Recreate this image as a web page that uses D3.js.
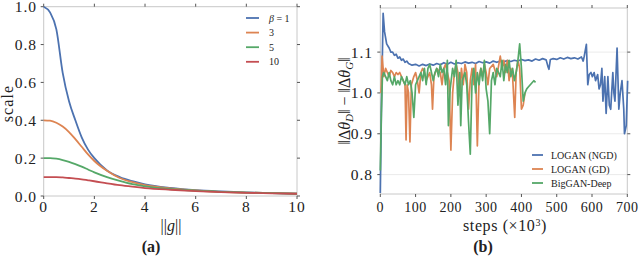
<!DOCTYPE html>
<meta charset="utf-8">
<script src="https://d3js.org/d3.v7.min.js"></script>
<style>
  body { margin: 0; background: #fff; }
  text { font-family: "Liberation Serif", "Noto Serif", serif; fill: #222; }
</style>
<div id="chart"></div>
<script>
// ---- panel (a) data ----
var gValues = [0, 0.25, 0.5, 0.75, 1, 1.25, 1.5, 1.75, 2, 2.5, 3, 3.5, 4, 5, 6, 7, 8, 9, 10];
var beta1  = [1.0, 0.97, 0.88, 0.65, 0.50, 0.40, 0.31, 0.245, 0.20, 0.135, 0.10, 0.078, 0.062, 0.043, 0.031, 0.024, 0.019, 0.015, 0.012];
var beta3  = [0.40, 0.398, 0.387, 0.367, 0.338, 0.30, 0.26, 0.22, 0.185, 0.133, 0.095, 0.073, 0.057, 0.04, 0.029, 0.022, 0.018, 0.015, 0.012];
var beta5  = [0.20, 0.20, 0.197, 0.19, 0.18, 0.168, 0.155, 0.14, 0.125, 0.10, 0.08, 0.063, 0.051, 0.037, 0.028, 0.022, 0.018, 0.015, 0.012];
var beta10 = [0.10, 0.10, 0.10, 0.098, 0.095, 0.092, 0.088, 0.083, 0.078, 0.067, 0.057, 0.049, 0.042, 0.033, 0.026, 0.021, 0.017, 0.014, 0.012];
var betaLabels = ["1", "3", "5", "10"];

// ---- panel (b) data (steps in thousands) ----
var ngdSteps = [0, 3, 8, 12, 18, 25, 30, 35, 40, 45, 50, 55, 60, 65, 70, 75, 80, 90, 100, 110, 120, 130, 140, 150, 160, 170, 180, 190, 200, 210, 220, 230, 240, 250, 260, 270, 280, 290, 300, 310, 320, 330, 340, 350, 360, 370, 380, 390, 400, 410, 420, 430, 440, 450, 460, 470, 475, 478, 482, 490, 500, 510, 520, 530, 540, 550, 560, 570, 575, 578, 584, 588, 592, 597, 601, 606, 610, 616, 620, 624, 628, 631, 636, 640, 645, 649, 653, 659, 662, 665, 671, 676, 680, 685, 690, 692, 697, 701];
var ngdValues = [0.755, 0.95, 1.195, 1.15, 1.12, 1.11, 1.10, 1.10, 1.092, 1.095, 1.085, 1.088, 1.08, 1.083, 1.075, 1.078, 1.072, 1.068, 1.07, 1.066, 1.07, 1.067, 1.071, 1.068, 1.072, 1.069, 1.074, 1.07, 1.075, 1.071, 1.074, 1.072, 1.076, 1.073, 1.075, 1.072, 1.077, 1.074, 1.076, 1.073, 1.078, 1.075, 1.078, 1.076, 1.079, 1.077, 1.08, 1.078, 1.082, 1.079, 1.081, 1.078, 1.083, 1.08, 1.084, 1.081, 1.065, 1.058, 1.082, 1.084, 1.082, 1.086, 1.083, 1.087, 1.084, 1.086, 1.083, 1.088, 1.078, 1.09, 1.119, 1.02, 1.045, 1.05, 1.04, 1.05, 1.03, 1.045, 1.01, 1.02, 1.06, 0.98, 1.04, 0.95, 1.04, 0.97, 0.96, 1.05, 1.0, 0.98, 1.11, 0.96, 1.0, 1.03, 0.96, 0.90, 0.92, 1.03];

var gdSteps = [2, 5, 10, 15, 20, 25, 30, 35, 40, 45, 50, 55, 60, 65, 70, 73, 76, 80, 84, 88, 95, 100, 105, 110, 115, 120, 125, 130, 140, 145, 148, 152, 160, 170, 175, 180, 185, 190, 195, 200, 205, 210, 215, 220, 225, 230, 235, 240, 245, 250, 255, 260, 265, 270, 275, 280, 285, 290, 295, 300, 305, 310, 320, 330, 340, 345, 350, 355, 360, 365, 370, 375, 381, 385, 390, 395, 400, 405, 410];
var gdValues = [1.0, 1.09, 1.04, 1.06, 1.05, 1.04, 1.055, 1.05, 1.04, 1.05, 1.045, 1.05, 1.04, 1.03, 1.02, 0.885, 1.02, 1.0, 0.88, 1.02, 1.04, 1.05, 1.03, 1.0, 1.05, 1.06, 1.05, 1.03, 1.05, 1.02, 0.96, 1.04, 1.06, 1.05, 1.02, 1.06, 1.07, 1.05, 1.03, 0.86, 1.0, 1.05, 1.07, 1.05, 1.0, 1.06, 1.02, 1.07, 1.05, 0.96, 1.03, 1.06, 1.02, 1.07, 0.87, 1.04, 1.06, 1.04, 1.07, 1.05, 1.02, 1.06, 1.07, 1.04, 1.09, 1.06, 1.08, 1.05, 1.08, 1.03, 1.06, 1.04, 0.94, 1.05, 1.08, 1.06, 0.96, 0.97, 1.0];

var deepSteps = [0, 3, 6, 10, 15, 20, 25, 30, 35, 40, 45, 50, 55, 60, 65, 70, 75, 80, 85, 90, 95, 100, 105, 110, 115, 120, 125, 130, 135, 140, 145, 150, 155, 160, 165, 170, 175, 180, 185, 190, 193, 198, 205, 210, 215, 220, 225, 228, 232, 240, 245, 250, 255, 260, 265, 270, 275, 280, 285, 290, 295, 300, 305, 310, 315, 320, 325, 330, 340, 345, 350, 355, 360, 365, 370, 375, 380, 385, 390, 395, 400, 405, 410, 415, 420, 425, 430, 435, 440];
var deepValues = [0.81, 0.95, 1.04, 1.05, 1.04, 1.03, 1.05, 1.03, 1.02, 1.04, 1.02, 1.03, 1.02, 1.04, 1.03, 1.02, 1.04, 1.02, 1.03, 1.0, 0.94, 1.02, 1.03, 1.04, 1.05, 1.03, 1.06, 1.02, 1.06, 1.07, 1.05, 1.03, 1.05, 1.06, 1.04, 1.07, 1.05, 1.06, 1.02, 1.08, 0.92, 1.01, 1.06, 1.04, 1.08, 0.97, 1.05, 0.92, 1.03, 1.05, 1.02, 0.93, 0.85, 1.03, 1.06, 1.0, 1.05, 1.02, 1.06, 1.03, 1.08, 1.01, 0.98, 0.90, 1.03, 1.05, 1.02, 1.06, 1.04, 1.08, 1.03, 1.07, 1.05, 1.08, 1.04, 1.06, 1.03, 1.05, 1.08, 1.12, 1.06, 0.98, 1.0, 1.01, 1.015, 1.02, 1.025, 1.03, 1.026];

var seriesNames = ["LOGAN (NGD)", "LOGAN (GD)", "BigGAN-Deep"];
var colors = ["#4C72B0", "#DD8452", "#55A868", "#C44E52"];

var svg = d3.select("#chart").append("svg")
  .attr("width", 640).attr("height", 261);

function frame(g, x, y, xTicks, yTicks, grid) {
  var x0 = x.range()[0], x1 = x.range()[1], y0 = y.range()[0], y1 = y.range()[1];
  if (grid) {
    g.append("g").selectAll("line").data(yTicks).enter().append("line")
      .attr("x1", x0).attr("x2", x1)
      .attr("y1", function(d){ return y(d); }).attr("y2", function(d){ return y(d); })
      .attr("stroke", "#ebebeb").attr("stroke-width", 1);
  }
  g.append("rect").attr("x", x0).attr("y", y1).attr("width", x1 - x0).attr("height", y0 - y1)
    .attr("fill", "none").attr("stroke", "#c8c8c8").attr("stroke-width", 1);
  // outward ticks on all four sides
  g.append("g").selectAll("line").data(xTicks).enter().append("line")
    .attr("x1", function(d){ return x(d); }).attr("x2", function(d){ return x(d); })
    .attr("y1", y0).attr("y2", y0 + 3).attr("stroke", "#555");
  g.append("g").selectAll("line").data(xTicks).enter().append("line")
    .attr("x1", function(d){ return x(d); }).attr("x2", function(d){ return x(d); })
    .attr("y1", y1).attr("y2", y1 - 3).attr("stroke", "#555");
  g.append("g").selectAll("line").data(yTicks).enter().append("line")
    .attr("x1", x0 - 3).attr("x2", x0)
    .attr("y1", function(d){ return y(d); }).attr("y2", function(d){ return y(d); }).attr("stroke", "#555");
  g.append("g").selectAll("line").data(yTicks).enter().append("line")
    .attr("x1", x1).attr("x2", x1 + 3)
    .attr("y1", function(d){ return y(d); }).attr("y2", function(d){ return y(d); }).attr("stroke", "#555");
}

// ===== panel (a) =====
var xa = d3.scaleLinear().domain([0, 10]).range([43.7, 297]);
var ya = d3.scaleLinear().domain([0, 1]).range([196, 6.7]);
var ga = svg.append("g");
var aTicksX = [0, 2, 4, 6, 8, 10], aTicksY = [0, 0.2, 0.4, 0.6, 0.8, 1.0];

frame(ga, xa, ya, aTicksX, aTicksY, false);

var lineA = d3.line().x(function(d){ return xa(d[0]); }).y(function(d){ return ya(d[1]); })
  .curve(d3.curveMonotoneX);
[beta1, beta3, beta5, beta10].forEach(function(vals, i) {
  ga.append("path").datum(gValues.map(function(g, j){ return [g, vals[j]]; }))
    .attr("d", lineA).attr("fill", "none").attr("stroke", colors[i]).attr("stroke-width", 1.8);
});

ga.selectAll(".xt").data(aTicksX).enter().append("text")
  .attr("x", function(d){ return xa(d); }).attr("y", 212)
  .attr("text-anchor", "middle").style("font-size", "15.5px").style("letter-spacing", "1px")
  .text(function(d){ return d; });
ga.selectAll(".yt").data(aTicksY).enter().append("text")
  .attr("x", 37).attr("y", function(d){ return ya(d) + 5.5; })
  .attr("text-anchor", "end").style("font-size", "15.5px").style("letter-spacing", "1px")
  .text(function(d){ return d3.format(".1f")(d); });

ga.append("text").attr("transform", "translate(12.5,103.5) rotate(-90)")
  .attr("text-anchor", "middle").style("font-size", "16px").style("letter-spacing", "1.1px").text("scale");
var gl = ga.append("text").attr("x", 171).attr("y", 231).attr("text-anchor", "middle")
  .style("font-size", "16px");
gl.append("tspan").text("||");
gl.append("tspan").style("font-style", "italic").text("g");
gl.append("tspan").text("||");
ga.append("text").attr("x", 151).attr("y", 252).attr("text-anchor", "middle")
  .style("font-size", "16px").style("font-weight", "bold").text("(a)");

// legend (a)
var legA = ga.append("g");
betaLabels.forEach(function(lab, i) {
  var yy = 18 + i * 14.6;
  legA.append("line").attr("x1", 246).attr("x2", 259).attr("y1", yy).attr("y2", yy)
    .attr("stroke", colors[i]).attr("stroke-width", 1.8);
  var t = legA.append("text").attr("x", 269).attr("y", yy + 3.5).style("font-size", "10px");
  if (i === 0) {
    t.append("tspan").style("font-style", "italic").text("β");
    t.append("tspan").text(" = " + lab);
  } else {
    t.text(lab);
  }
});

// ===== panel (b) =====
var xb = d3.scaleLinear().domain([0, 700]).range([380.3, 627.3]);
var yb = d3.scaleLinear().domain([0.7525, 1.208]).range([194, 8]);
var gb = svg.append("g");
var bTicksX = [0, 100, 200, 300, 400, 500, 600, 700], bTicksY = [0.8, 0.9, 1.0, 1.1];

frame(gb, xb, yb, bTicksX, bTicksY, true);

var lineB = d3.line().x(function(d){ return xb(d[0]); }).y(function(d){ return yb(d[1]); });
[[ngdSteps, ngdValues], [gdSteps, gdValues], [deepSteps, deepValues]].forEach(function(s, i) {
  var pts = s[0].map(function(x, j){ return [x, s[1][j]]; });
  gb.append("path").datum(pts).attr("d", lineB).attr("fill", "none")
    .attr("stroke", colors[i]).attr("stroke-width", 1.7).attr("stroke-linejoin", "round");
});

gb.selectAll(".xt").data(bTicksX).enter().append("text")
  .attr("x", function(d){ return xb(d); }).attr("y", 212)
  .attr("text-anchor", "middle").style("font-size", "14px").style("letter-spacing", "0.5px")
  .text(function(d){ return d; });
gb.selectAll(".yt").data(bTicksY).enter().append("text")
  .attr("x", 373).attr("y", function(d){ return yb(d) + 5.5; })
  .attr("text-anchor", "end").style("font-size", "15.5px").style("letter-spacing", "1px")
  .text(function(d){ return d3.format(".1f")(d); });

var yl = gb.append("text").attr("transform", "translate(350,101) rotate(-90)")
  .attr("text-anchor", "middle").style("font-size", "16px");
yl.append("tspan").text("‖Δ");
yl.append("tspan").style("font-style", "italic").text("θ");
yl.append("tspan").attr("baseline-shift", "-25%").style("font-size", "11px").style("font-style", "italic").text("D");
yl.append("tspan").text("‖ − ‖Δ");
yl.append("tspan").style("font-style", "italic").text("θ");
yl.append("tspan").attr("baseline-shift", "-25%").style("font-size", "11px").style("font-style", "italic").text("G");
yl.append("tspan").text("‖");

var xl = gb.append("text").attr("x", 505).attr("y", 231).attr("text-anchor", "middle")
  .style("font-size", "16px").style("letter-spacing", "0.6px");
xl.append("tspan").text("steps (×10");
xl.append("tspan").attr("baseline-shift", "super").style("font-size", "10px").text("3");
xl.append("tspan").text(")");
gb.append("text").attr("x", 483).attr("y", 252).attr("text-anchor", "middle")
  .style("font-size", "16px").style("font-weight", "bold").text("(b)");

// legend (b)
seriesNames.forEach(function(name, i) {
  var yy = 155 + i * 14;
  gb.append("line").attr("x1", 532).attr("x2", 543).attr("y1", yy).attr("y2", yy)
    .attr("stroke", colors[i]).attr("stroke-width", 1.8);
  gb.append("text").attr("x", 551).attr("y", yy + 3.5).style("font-size", "10px").text(name);
});
</script>
